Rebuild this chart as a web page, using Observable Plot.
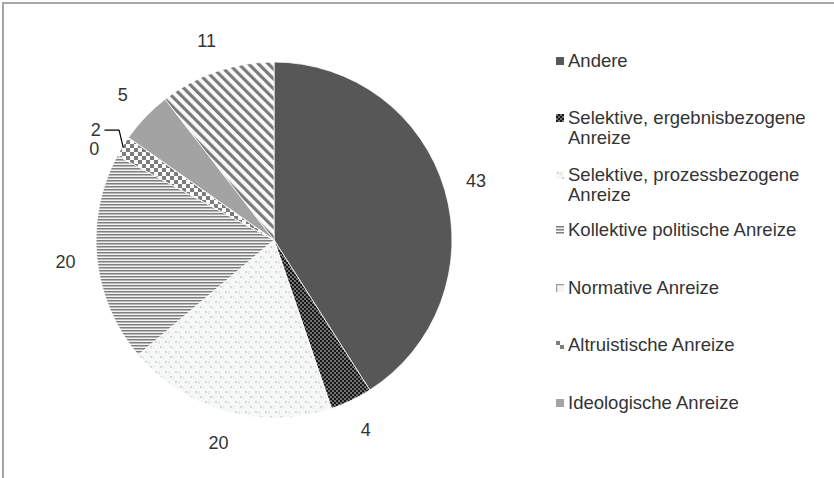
<!DOCTYPE html>
<html><head><meta charset="utf-8">
<script src="https://cdn.jsdelivr.net/npm/d3@7"></script>
<script src="https://cdn.jsdelivr.net/npm/@observablehq/plot@0.6"></script>
<style>
html,body{margin:0;padding:0;background:#fff;}
#wrap{position:relative;width:834px;height:478px;overflow:hidden;font-family:"Liberation Sans",Arial,sans-serif;}
#frame{position:absolute;left:2px;top:2px;width:900px;height:600px;border-left:2px solid #a6a6a6;border-top:2px solid #a6a6a6;pointer-events:none;}
#chart{position:absolute;left:0;top:0;}
.item{position:absolute;left:556px;font-size:18.5px;line-height:20px;color:#333;}
.item svg{position:absolute;left:0;top:6px;}
.item span{position:absolute;left:12px;top:0;white-space:nowrap;}
</style>
</head>
<body>
<svg width="0" height="0" style="position:absolute">
  <defs>
    <pattern id="pDots" width="4" height="4" patternUnits="userSpaceOnUse">
      <rect width="4" height="4" fill="#161616"/>
      <circle cx="1" cy="1" r="0.75" fill="#fff"/>
      <circle cx="3" cy="3" r="0.75" fill="#fff"/>
    </pattern>
    <pattern id="pSparse" width="10" height="10" patternUnits="userSpaceOnUse">
      <rect width="10" height="10" fill="#f6f7f7"/>
      <circle cx="2" cy="2" r="0.7" fill="#a59d9d"/>
      <circle cx="7" cy="7" r="0.7" fill="#a59d9d"/>
      <rect x="4.6" y="1" width="0.8" height="3" fill="#d2d2d2"/>
      <rect x="9.6" y="6" width="0.8" height="3" fill="#d2d2d2"/>
    </pattern>
    <pattern id="pHStripes" width="4" height="3" patternUnits="userSpaceOnUse">
      <rect width="4" height="3" fill="#f2f2f2"/>
      <rect y="0" width="4" height="1.5" fill="#7f7f7f"/>
    </pattern>
    <pattern id="pNorm" width="8" height="8" patternUnits="userSpaceOnUse">
      <rect width="8" height="8" fill="#f4f4f4"/>
      <rect width="8" height="1.2" fill="#999"/>
      <rect width="1.2" height="8" fill="#999"/>
    </pattern>
    <pattern id="pChecker" width="8" height="8" patternUnits="userSpaceOnUse">
      <rect width="8" height="8" fill="#fafafa"/>
      <rect x="0" y="0" width="4" height="4" fill="#7d7d7d"/>
      <rect x="4" y="4" width="4" height="4" fill="#7d7d7d"/>
    </pattern>
    <pattern id="pDiag" width="7" height="7" patternUnits="userSpaceOnUse" patternTransform="rotate(-45)">
      <rect width="7" height="7" fill="#fbfbfb"/>
      <rect x="0" y="0" width="3.2" height="7" fill="#7a7a7a"/>
    </pattern>
  </defs>
</svg>
<div id="wrap">
  <div id="chart"></div>
  <div id="legend"></div>
  <div id="frame"></div>
</div>
<script>
// ---- data ----
const categories = [
  "Andere",
  "Selektive, ergebnisbezogene Anreize",
  "Selektive, prozessbezogene Anreize",
  "Kollektive politische Anreize",
  "Normative Anreize",
  "Altruistische Anreize",
  "Ideologische Anreize",
  "Sonstige"
];
const values = [43, 4, 20, 20, 0, 2, 5, 11];
const legendEntries = [
  ["Selektive, ergebnisbezogene", "Anreize"],
  ["Selektive, prozessbezogene", "Anreize"]
];
const legendCount = 7; // the reference legend shows the first seven categories

// ---- styling (not data) ----
const fills = ["#575757", "url(#pDots)", "url(#pSparse)", "url(#pHStripes)", "url(#pNorm)", "url(#pChecker)", "#a3a3a3", "url(#pDiag)"];

const data = categories.map((c, i) => ({category: c, value: values[i], fill: fills[i]}));
const pie = d3.pie().sort(null).value(d => d.value).startAngle(0).endAngle(2 * Math.PI);
const arcs = pie(data);

// label positions in data units (unit = pie radius), angle clockwise from top
const labelR = 1.18;
const labels = arcs.map((a, i) => {
  const mid = (a.startAngle + a.endAngle) / 2;
  const rr = a.value === 0 ? 1.15 : labelR;
  return {x: Math.sin(mid) * rr, y: Math.cos(mid) * rr + (a.value === 0 ? -0.03 : 0), text: String(a.value), mid, value: a.value};
});
// leader line for the tiny slice that sits next to a zero slice
const leaders = [];
labels.forEach((l, i) => {
  if (l.value > 0 && l.value < 3) {
    const px = Math.sin(l.mid), py = Math.cos(l.mid);
    const u = 1 / 178;
    leaders.push({id: i, x: l.x + 9 * u, y: l.y});
    leaders.push({id: i, x: px - 4 * u, y: l.y});
    leaders.push({id: i, x: px, y: py});
  }
});

function slicesMark(index, scales, values, dimensions, context) {
  const cx = scales.x(0), cy = scales.y(0), r = scales.x(1) - scales.x(0);
  const arc = d3.arc().innerRadius(0).outerRadius(r);
  const g = d3.create("svg:g").attr("transform", `translate(${cx},${cy})`);
  g.selectAll("path").data(arcs.filter(a => a.value > 0)).join("path")
    .attr("d", arc)
    .attr("fill", d => d.data.fill)
    .attr("stroke", "#fff")
    .attr("stroke-width", 0.8);
  return g.node();
}

const chart = Plot.plot({
  width: 834,
  height: 478,
  margin: 0,
  style: {background: "transparent", fontFamily: "Liberation Sans, Arial, sans-serif"},
  x: {domain: [-1, 1], range: [96, 452], axis: null},
  y: {domain: [-1, 1], range: [418, 62], axis: null},
  marks: [
    slicesMark,
    Plot.line(leaders, {x: "x", y: "y", z: "id", stroke: "#000", strokeWidth: 1.2}),
    Plot.text(labels, {x: "x", y: "y", text: "text", fontSize: 18, fill: "#333"})
  ]
});
document.getElementById("chart").appendChild(chart);

// legend (HTML)
const legendTops = [51, 108, 165, 220, 278, 335, 393];
const legend = document.getElementById("legend");
for (let i = 0; i < legendCount; i++) {
  const item = document.createElement("div");
  item.className = "item";
  item.style.top = legendTops[i] + "px";
  const sw = `<svg width="8" height="8"><rect width="8" height="8" fill="${fills[i]}"/></svg>`;
  const two = legendEntries.find(e => e.join(" ") === categories[i]);
  const txt = two ? two.join("<br>") : categories[i];
  item.innerHTML = sw + `<span>${txt}</span>`;
  legend.appendChild(item);
}
</script>
</body></html>
